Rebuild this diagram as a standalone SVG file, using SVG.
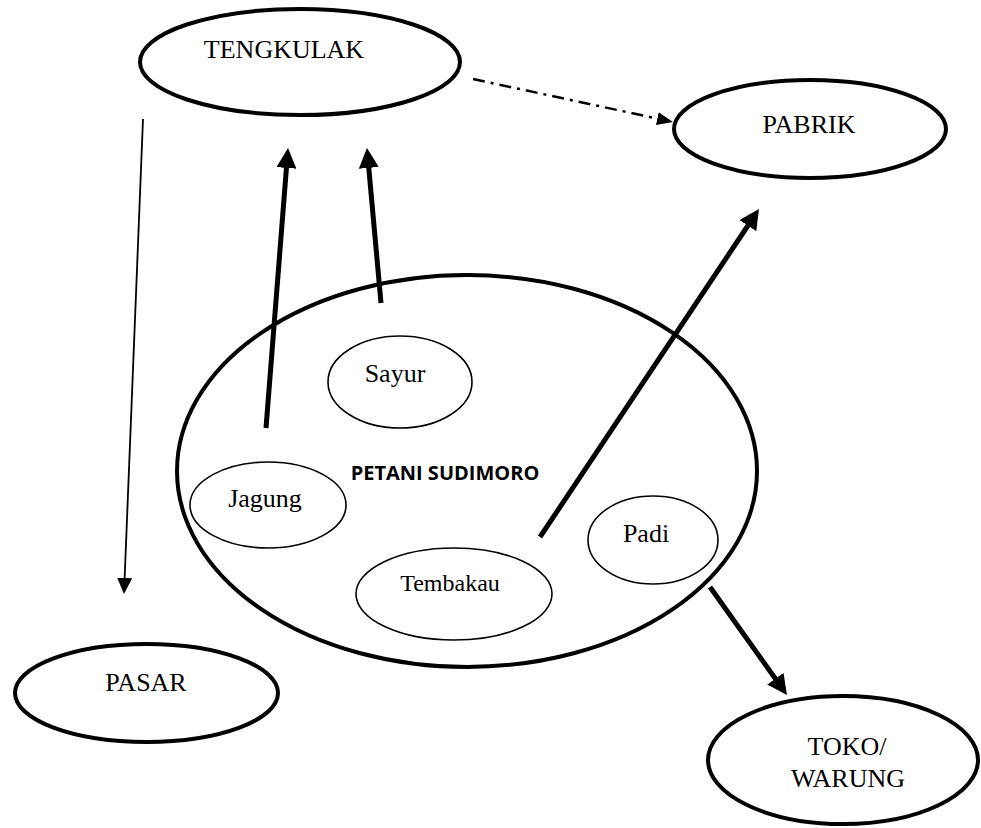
<svg xmlns="http://www.w3.org/2000/svg" width="981" height="828" viewBox="0 0 981 828">
<style>
.bg{fill:#fff}
.thick{fill:none;stroke:#000;stroke-width:4}
.thin{fill:none;stroke:#000;stroke-width:1.6}
.lbl{font-family:"Liberation Serif","Times New Roman",serif;font-size:26px;fill:#000;text-anchor:middle}
.sm{font-size:24px}
.bold{font-family:"Open Sans","Liberation Sans",sans-serif;font-weight:bold;font-size:20px;fill:#000;text-anchor:middle}
.arr{fill:none;stroke:#000;stroke-width:5}
.arr2{fill:none;stroke:#000;stroke-width:1.8}
.dd{fill:none;stroke:#000;stroke-width:2.5;stroke-dasharray:12 6 3 6}
</style>
<defs>
<marker id="big" markerUnits="userSpaceOnUse" markerWidth="20" markerHeight="20" viewBox="0 0 20 20" refX="2" refY="10" orient="auto"><path d="M0,0 L20,10 L0,20 z" fill="#000"/></marker>
<marker id="small" markerUnits="userSpaceOnUse" markerWidth="16" markerHeight="15" viewBox="0 0 16 15" refX="1" refY="7.5" orient="auto"><path d="M0,0 L16,7.5 L0,15 z" fill="#000"/></marker>
<marker id="mid" markerUnits="userSpaceOnUse" markerWidth="16" markerHeight="13" viewBox="0 0 16 13" refX="1" refY="6.5" orient="auto"><path d="M0,0 L16,6.5 L0,13 z" fill="#000"/></marker>
</defs>
<rect class="bg" x="0" y="0" width="981" height="828"/>
<g id="tengkulak"><ellipse class="thick" cx="300" cy="62" rx="160" ry="53"/><text class="lbl" x="284" y="58">TENGKULAK</text></g>
<g id="pabrik"><ellipse class="thick" cx="810" cy="129" rx="136" ry="49"/><text class="lbl" x="809" y="133">PABRIK</text></g>
<g id="pasar"><ellipse class="thick" cx="146.5" cy="693" rx="131.5" ry="49"/><text class="lbl" x="146" y="691">PASAR</text></g>
<g id="toko"><ellipse class="thick" cx="843" cy="760" rx="135" ry="64"/><text class="lbl" x="847" y="755">TOKO/</text><text class="lbl" x="848" y="787">WARUNG</text></g>
<g id="petani"><ellipse class="thick" cx="467" cy="471" rx="290" ry="196"/><text class="bold" x="445" y="480">PETANI SUDIMORO</text></g>
<g id="sayur"><ellipse class="thin" cx="400" cy="382" rx="72" ry="46"/><text class="lbl" x="395" y="382">Sayur</text></g>
<g id="jagung"><ellipse class="thin" cx="268" cy="505" rx="78" ry="43"/><text class="lbl" x="265" y="507">Jagung</text></g>
<g id="tembakau"><ellipse class="thin" cx="454" cy="594" rx="98" ry="46"/><text class="lbl sm" x="450" y="591">Tembakau</text></g>
<g id="padi"><ellipse class="thin" cx="653" cy="540" rx="65" ry="44"/><text class="lbl" x="646" y="542">Padi</text></g>
<g id="connectors">
<line class="arr2" x1="143" y1="119" x2="124.6" y2="579" marker-end="url(#small)"/>
<line class="dd" x1="473" y1="79" x2="658.3" y2="118.8" marker-end="url(#mid)"/>
<line class="arr" x1="266" y1="428" x2="286.6" y2="165.9" marker-end="url(#big)"/>
<line class="arr" x1="381" y1="303" x2="368.6" y2="165.9" marker-end="url(#big)"/>
<line class="arr" x1="540" y1="537" x2="749" y2="224" marker-end="url(#big)"/>
<line class="arr" x1="710" y1="587" x2="776.5" y2="680.3" marker-end="url(#big)"/>
</g>
</svg>
